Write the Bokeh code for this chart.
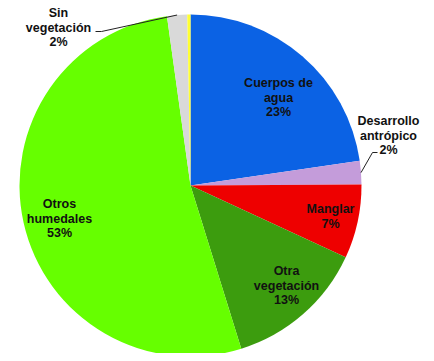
import math
from bokeh.plotting import figure
from bokeh.models import Range1d, ColumnDataSource
from bokeh.core.properties import value
from bokeh.embed import file_html
from bokeh.resources import INLINE

# ---- data ----
categories = ["Cuerpos de\nagua", "Desarrollo\nantrópico", "Manglar", "Otra\nvegetación",
              "Otros\nhumedales", "Sin\nvegetación", ""]
shares = [22.7, 2.2, 7.0, 13.3, 52.6, 1.9, 0.3]
colors = ["#0B62E4", "#C49CDA", "#EE0000", "#3C9C0E", "#66FF00", "#D9D9D9", "#FFFF33"]

# ---- layout ----
W, H = 426, 353
TOP = 361  # data y = TOP - page y
cx, cy, R = 190, TOP - 185, 171

p = figure(width=W, height=H, output_backend="svg", toolbar_location=None,
           x_range=Range1d(0, W), y_range=Range1d(TOP - H, TOP), min_border=0)
p.axis.visible = False
p.grid.visible = False
p.outline_line_color = None

total = sum(shares)
starts, ends, mids = [], [], []
cum = 0.0
for v in shares:
    a0 = math.pi / 2 - 2 * math.pi * cum / total
    cum += v
    a1 = math.pi / 2 - 2 * math.pi * cum / total
    starts.append(a0)
    ends.append(a1)
    mids.append((a0 + a1) / 2)

src = ColumnDataSource(dict(start=starts, end=ends, color=colors))
p.wedge(x=cx, y=cy, radius=R, start_angle="start", end_angle="end",
        direction="clock", fill_color="color", line_color=None, source=src)

# label centre positions (page pixels)
label_pos = {0: (278, 97), 1: (388, 135), 2: (330, 216), 3: (286, 285),
             4: (59, 218), 5: (58, 27)}
lh = 14.8

tx, ty, tt = [], [], []
for i, (name, v) in enumerate(zip(categories, shares)):
    if not name:
        continue
    lines = name.split("\n") + ["%d%%" % int(v + 0.5)]
    lx, py = label_pos[i]
    ly = TOP - py
    n = len(lines)
    for k, s in enumerate(lines):
        tx.append(lx)
        ty.append(ly + (n - 1) / 2 * lh - k * lh)
        tt.append(s)

p.text(x=tx, y=ty, text=tt, text_font=value("Liberation Sans"), text_font_style="bold",
       text_font_size="12.5px", text_color="#111111", text_align="center",
       text_baseline="middle")

# leader lines
def edge(i):
    return cx + R * math.cos(mids[i]), cy + R * math.sin(mids[i])

ex, ey = edge(5)
p.line(x=[ex, 101, 95], y=[ey, TOP - 31, TOP - 31], line_color="#222222", line_width=1)
ex, ey = edge(1)
p.line(x=[ex, 372, 377], y=[ey, TOP - 152, TOP - 152], line_color="#222222", line_width=1)

open("out.html", "w").write(file_html(p, INLINE))
